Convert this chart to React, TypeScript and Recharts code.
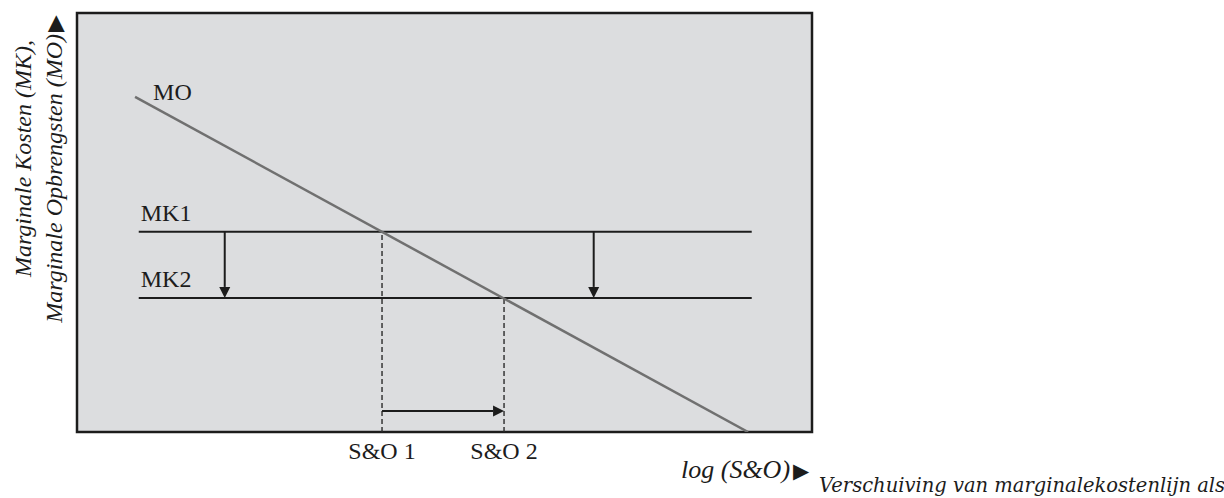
import React from 'react';
import { ComposedChart, Line, XAxis, YAxis, CartesianGrid, ReferenceArea, ReferenceLine } from 'recharts';

// all values in a 0-100 schematic scale
const moLine = [
  { x: 7.9, y: 80 },
  { x: 91.3, y: 0 },
];
const mkNames = ['MK1', 'MK2'];
const mkLevels = [47.8, 32.0];
const mkFrom = 8.4;
const mkTo = 91.8;
const shiftDownX = [20.1, 70.3];
const soX = [41.5, 58.1];
const soLabels = ['S&O 1', 'S&O 2'];
const shiftRightY = 5.0;

const serif = "'Liberation Serif', 'Times New Roman', serif";
const ink = '#1c1c1c';

function arrowShape(props: any) {
  const { x1, y1, x2, y2 } = props;
  const ang = Math.atan2(y2 - y1, x2 - x1);
  const len = 11;
  const half = 5.5;
  const bx = x2 - len * Math.cos(ang);
  const by = y2 - len * Math.sin(ang);
  const nx = -Math.sin(ang) * half;
  const ny = Math.cos(ang) * half;
  return (
    <g>
      <line x1={x1} y1={y1} x2={bx} y2={by} stroke={ink} strokeWidth={2} />
      <polygon points={`${x2},${y2} ${bx + nx},${by + ny} ${bx - nx},${by - ny}`} fill={ink} />
    </g>
  );
}

function mkShape(name: string) {
  return (props: any) => {
    const { x1, y1, x2, y2 } = props;
    return (
      <g>
        <line x1={x1} y1={y1} x2={x2} y2={y2} stroke={ink} strokeWidth={2} />
        <text x={Math.min(x1, x2) + 2} y={y1 - 11} fontFamily={serif} fontSize={24} fill={ink}>
          {name}
        </text>
      </g>
    );
  };
}

function moLabel(props: any) {
  if (props.index !== 0) return null;
  return (
    <text x={props.x + 18} y={props.y + 3} fontFamily={serif} fontSize={24} fill={ink}>
      MO
    </text>
  );
}

function AxisTitles() {
  return (
    <g fontFamily={serif} fontStyle="italic" fontSize={24} fill={ink}>
      <text transform="translate(31, 40) rotate(-90)" textAnchor="end">
        Marginale Kosten (MK),
      </text>
      <text transform="translate(62, 15) rotate(-90)" textAnchor="end">
        Marginale Opbrengsten (MO)
        <tspan fontStyle="normal" fontFamily="'DejaVu Sans'" fontSize={22} dx={2}>▶</tspan>
      </text>
      <text x={681} y={478} fontSize={26}>
        log (S&amp;O)
        <tspan fontStyle="normal" fontFamily="'DejaVu Sans'" fontSize={21} dx={3}>▶</tspan>
      </text>
      <text x={819} y={492} fontFamily="'DejaVu Serif'" fontSize={19.5}>
        Verschuiving van marginalekostenlijn als
      </text>
    </g>
  );
}

export default function App() {
  return (
    <div style={{ position: 'absolute', left: 0, top: 0, background: '#fff' }}>
      <ComposedChart width={1224} height={498} margin={{ top: 13, right: 412, bottom: 0, left: 77 }}>
        <CartesianGrid fill="#dcdddf" horizontal={false} vertical={false} />
        <XAxis
          type="number"
          dataKey="x"
          domain={[0, 100]}
          allowDataOverflow
          height={66}
          ticks={soX}
          tickFormatter={(v: number) => soLabels[soX.indexOf(v)] ?? ''}
          tick={{ fill: ink, fontSize: 24, fontFamily: serif }}
          tickMargin={4}
          axisLine={false}
          tickLine={false}
        />
        <YAxis type="number" domain={[0, 100]} allowDataOverflow hide />
        <ReferenceArea x1={0} x2={100} y1={0} y2={100} fill="none" stroke={ink} strokeWidth={2.5} />

        {soX.map((x, i) => (
          <ReferenceLine
            key={'so' + i}
            segment={[{ x, y: 0 }, { x, y: mkLevels[i] }]}
            stroke="#2a2a2a"
            strokeWidth={1.4}
            strokeDasharray="5 3"
          />
        ))}

        {mkLevels.map((y, i) => (
          <ReferenceLine
            key={'mk' + i}
            segment={[{ x: mkFrom, y }, { x: mkTo, y }]}
            shape={mkShape(mkNames[i])}
          />
        ))}

        {shiftDownX.map((x, i) => (
          <ReferenceLine
            key={'dn' + i}
            segment={[{ x, y: mkLevels[0] }, { x, y: mkLevels[1] }]}
            shape={arrowShape}
          />
        ))}

        <ReferenceLine
          segment={[{ x: soX[0], y: shiftRightY }, { x: soX[1], y: shiftRightY }]}
          shape={arrowShape}
        />

        <Line
          data={moLine}
          dataKey="y"
          stroke="#707070"
          strokeWidth={2.5}
          dot={false}
          label={moLabel}
          isAnimationActive={false}
        />

        <AxisTitles />
      </ComposedChart>
    </div>
  );
}
